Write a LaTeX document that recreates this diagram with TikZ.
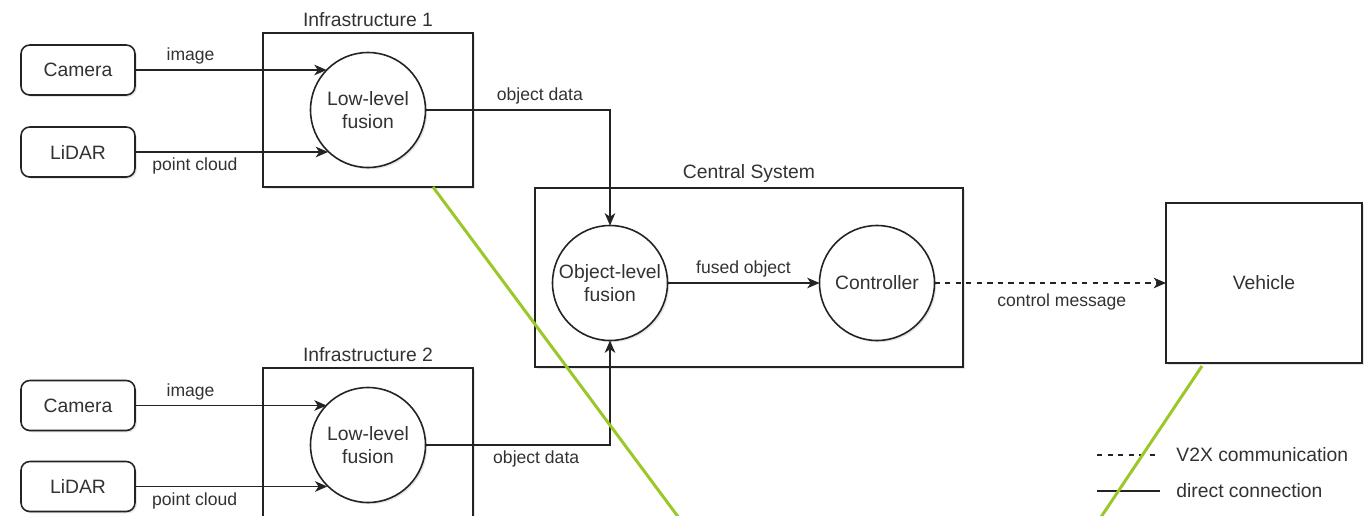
\documentclass[tikz,border=0pt]{standalone}
\usepackage{fontspec}
\setmainfont{Liberation Sans}
\usepackage{xcolor}
\usepackage{tikz}
\usetikzlibrary{positioning,arrows.meta,shadows}
\definecolor{linegray}{RGB}{35,35,35}
\definecolor{textgray}{RGB}{50,50,50}
\definecolor{markgreen}{RGB}{154,200,40}

\begin{document}
\begin{tikzpicture}[outer sep=0pt,
    every node/.style={font=\fontsize{11}{13}\selectfont, text=textgray},
    boxshadow/.style={drop shadow={opacity=0.2, shadow xshift=1pt, shadow yshift=-1pt}},
    sensor/.style={draw=linegray, line width=0.9pt, fill=white, rounded corners=5pt, minimum width=2.28cm, minimum height=1.0cm, boxshadow},
    group/.style={draw=linegray, line width=0.9pt, fill=white, rectangle, boxshadow},
    fusion/.style={draw=linegray, line width=0.9pt, fill=white, circle, minimum size=2.3cm, inner sep=0pt, align=center, boxshadow},
    elabel/.style={font=\fontsize{10}{12}\selectfont},
    flow/.style={draw=linegray, line width=0.9pt, -{Stealth[length=7pt, width=6pt, inset=2pt]}},
    v2x/.style={flow, dash pattern=on 3pt off 3pt},
    keyline/.style={draw=linegray, line width=0.9pt},
    pointer/.style={draw=markgreen, line width=1.7pt}]
    \useasboundingbox (0,0) rectangle (27.36,-10.30);
    \clip (0,0) rectangle (27.36,-10.30);

    \node [sensor] (cam1) at (1.56,-1.40) {Camera};
    \node [sensor, below=0.64cm of cam1] (lid1) {LiDAR};
    \node [group, minimum width=4.2cm, minimum height=3.08cm, label=above:Infrastructure 1] (infra1) at (7.36,-2.20) {};
    \node [fusion] (fus1) at (infra1) {Low-level\\fusion};

    \node [sensor] (cam2) at (1.56,-8.11) {Camera};
    \node [sensor, below=0.62cm of cam2] (lid2) {LiDAR};
    \node [group, minimum width=4.2cm, minimum height=3.08cm, label=above:Infrastructure 2] (infra2) at (7.36,-8.90) {};
    \node [fusion] (fus2) at (infra2) {Low-level\\fusion};

    \node [group, minimum width=8.56cm, minimum height=3.58cm, label=above:Central System] (central) at (14.98,-5.55) {};
    \node [fusion] (objfus) at (12.20,-5.66) {Object-level\\fusion};
    \node [fusion, right=3.04cm of objfus] (ctrl) {Controller};

    \node [group, minimum width=3.92cm, minimum height=3.2cm] (vehicle) at (25.28,-5.66) {Vehicle};

    \draw [flow] (cam1.east) -- node [elabel, above, pos=0.29] {image} (fus1.136 |- cam1);
    \draw [flow] (lid1.east) -- node [elabel, below, pos=0.31] {point cloud} (fus1.226 |- lid1);
    \draw [flow] (cam2.east) -- node [elabel, above, pos=0.29] {image} (fus2.136 |- cam2);
    \draw [flow] (lid2.east) -- node [elabel, below, pos=0.31] {point cloud} (fus2.225 |- lid2);

    \draw [flow] (fus1.east) -| node [elabel, above, pos=0.31] {object data} (objfus.north);
    \draw [flow] (fus2.east) -| node [elabel, below, pos=0.3] {object data} (objfus.south);
    \draw [flow] (objfus) -- node [elabel, above] {fused object} (ctrl);
    \draw [v2x] (ctrl) -- node [elabel, below=3pt, pos=0.55] {control message} (vehicle);

    \coordinate (dashstart) at (21.94,-9.10);
    \coordinate (solidstart) at (21.94,-9.82);
    \node [anchor=west] (v2xkey) at (23.41,-9.10) {V2X communication};
    \node [anchor=west] (directkey) at (23.41,-9.82) {direct connection};
    \draw [keyline, dash pattern=on 3pt off 3pt] (dashstart) -- ([xshift=-0.21cm]v2xkey.west);
    \draw [keyline] (solidstart) -- ([xshift=-0.21cm]directkey.west);

    \coordinate (mark1) at (13.61,-10.40);
    \coordinate (mark2) at (21.98,-10.40);
    \draw [pointer] ([xshift=1.3cm]infra1.south) -- (mark1);
    \draw [pointer] ([xshift=-1.24cm, yshift=-0.06cm]vehicle.south) -- (mark2);
\end{tikzpicture}
\end{document}
